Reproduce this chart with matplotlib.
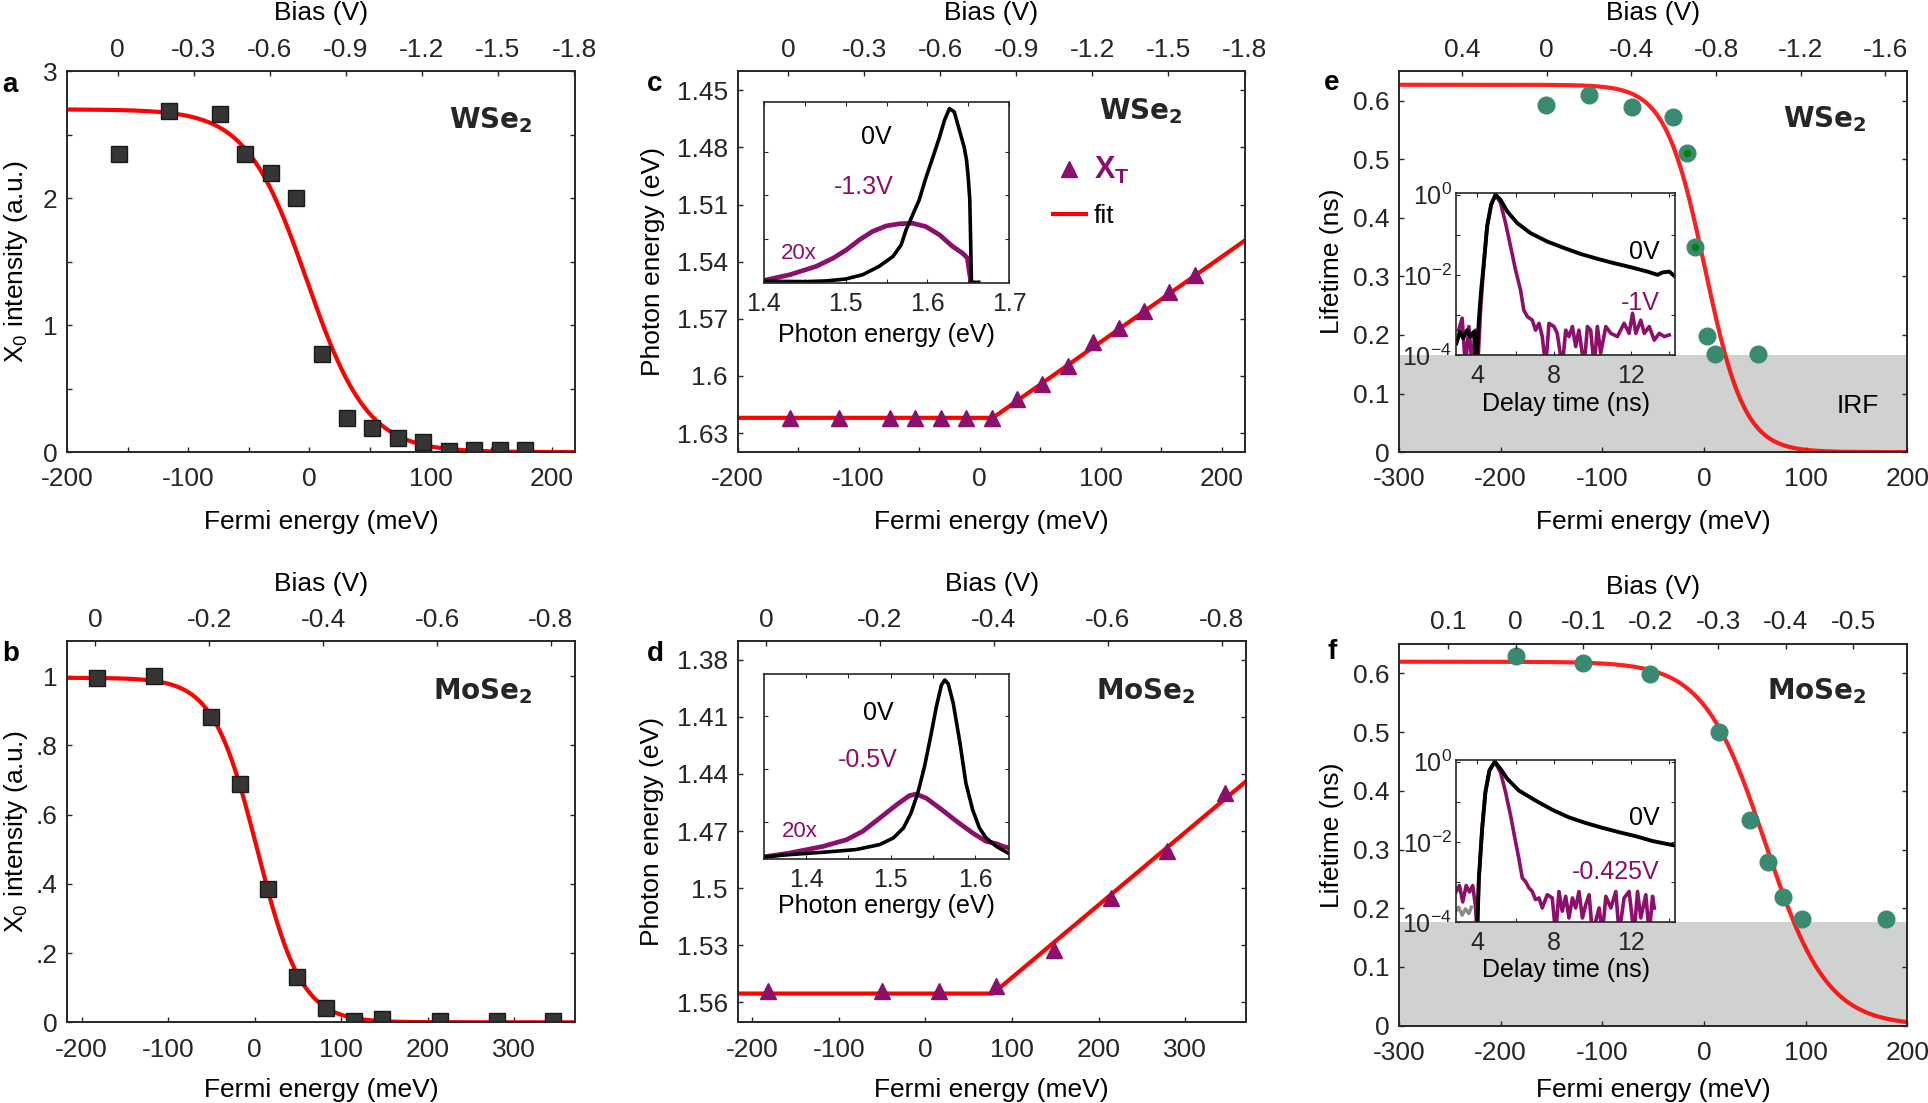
import numpy as np
import matplotlib
matplotlib.use("Agg")
import matplotlib.pyplot as plt

plt.rcParams['font.family'] = ['Liberation Sans', 'DejaVu Sans']
plt.rcParams['mathtext.fontset'] = 'dejavusans'
plt.rcParams['axes.unicode_minus'] = False

W, H = 1928, 1103

RED = '#ff0000'
PURPLE = '#8c0f6b'
GREEN = '#3a8a72'
DKGREEN = '#0b7d14'
SQ_FACE = '#353535'
AX_COL = '#262626'
IRF_COL = '#d0d2d1'

# ---------------- data ----------------
# a: WSe2 X0 intensity
a_ef = [-157, -116, -74, -53, -32, -11, 10, 31, 52, 73, 94, 115, 136, 157, 178]
a_int = [2.35, 2.69, 2.66, 2.35, 2.2, 2.0, 0.77, 0.27, 0.19, 0.11, 0.08, 0.01, 0.02, 0.02, 0.02]
a_fit = (2.7, -2, 25)          # amplitude, centre (meV), width (meV)

# b: MoSe2 X0 intensity
b_ef = [-182, -116, -51, -17, 15, 49, 82, 115, 147, 214, 280, 345]
b_int = [0.995, 1.0, 0.882, 0.687, 0.385, 0.13, 0.04, 0.005, 0.01, 0.005, 0.005, 0.005]
b_fit = (0.995, 3, 25.5)

# c: WSe2 trion energy
c_ef = [-157, -116, -74, -53, -32, -11, 10, 31, 52, 73, 94, 115, 136, 157, 178]
c_xt = [1.622, 1.622, 1.622, 1.622, 1.622, 1.622, 1.622, 1.612, 1.604, 1.595,
        1.582, 1.575, 1.566, 1.556, 1.547]
c_fit_ef = [-200, 11, 219]
c_fit_en = [1.622, 1.622, 1.529]

# d: MoSe2 trion energy
d_ef = [-182, -50, 16, 82, 148, 214, 279, 346]
d_xt = [1.554, 1.554, 1.554, 1.5516, 1.5322, 1.5049, 1.4804, 1.4498]
d_fit_ef = [-217, 78, 370]
d_fit_en = [1.5553, 1.5553, 1.444]

# e: WSe2 lifetime
e_ef = [-155, -113, -71, -30, -17, -9, 3, 11, 53]
e_tau = [0.592, 0.609, 0.589, 0.572, 0.511, 0.350, 0.199, 0.167, 0.167]
e_mark_ef = [-17, -9]
e_mark_tau = [0.511, 0.350]
e_fit = (0.627, 1, 19.5)
e_irf = 0.166

# f: MoSe2 lifetime
f_ef = [-185, -119, -53, 15, 45, 63, 78, 96, 179]
f_tau = [0.630, 0.618, 0.599, 0.500, 0.350, 0.279, 0.220, 0.182, 0.182]
f_fit = (0.62, 60.5, 30.3)
f_irf = 0.177

# inset c: PL spectra WSe2 (normalised)
ic_e0 = [1.400, 1.452, 1.476, 1.500, 1.521, 1.541, 1.558, 1.568, 1.574, 1.590, 1.598, 1.607,
         1.615, 1.621, 1.627, 1.633, 1.637, 1.641, 1.645, 1.648, 1.650, 1.652, 1.653, 1.654, 1.663]
ic_i0 = [0.006, 0.004, 0.008, 0.019, 0.044, 0.092, 0.149, 0.216, 0.302, 0.474, 0.598, 0.723,
         0.837, 0.933, 1.0, 0.981, 0.914, 0.847, 0.780, 0.704, 0.608, 0.474, 0.245, 0.0, 0.0]
ic_e1 = [1.400, 1.432, 1.464, 1.485, 1.501, 1.517, 1.533, 1.550, 1.566, 1.582, 1.598, 1.615,
         1.631, 1.643, 1.649, 1.651, 1.654]
ic_i1 = [0.011, 0.044, 0.092, 0.140, 0.187, 0.245, 0.293, 0.325, 0.337, 0.340, 0.321, 0.273,
         0.206, 0.168, 0.140, 0.073, -0.013]

# inset d: PL spectra MoSe2 (normalised)
id_e0 = [1.350, 1.381, 1.420, 1.459, 1.487, 1.503, 1.515, 1.524, 1.532, 1.540, 1.548, 1.554,
         1.560, 1.564, 1.568, 1.574, 1.582, 1.589, 1.597, 1.605, 1.613, 1.625, 1.640]
id_i0 = [0.006, 0.019, 0.032, 0.047, 0.075, 0.112, 0.168, 0.252, 0.364, 0.514, 0.70, 0.85,
         0.972, 1.0, 0.98, 0.87, 0.645, 0.42, 0.27, 0.168, 0.112, 0.065, 0.024]
id_e1 = [1.350, 1.381, 1.420, 1.448, 1.467, 1.487, 1.507, 1.522, 1.530, 1.542, 1.558, 1.578,
         1.597, 1.613, 1.625, 1.633, 1.640]
id_i1 = [0.006, 0.028, 0.065, 0.103, 0.15, 0.224, 0.299, 0.35, 0.359, 0.336, 0.28, 0.206,
         0.14, 0.093, 0.08, 0.065, 0.056]

# inset e: decay traces WSe2 (log10 of counts)
ie_t0 = [2.92, 3.10, 3.27, 3.48, 3.65, 3.83, 3.97, 4.09, 4.21, 4.35, 4.52, 4.73, 4.96, 5.22,
         5.57, 6.09, 6.78, 7.65, 8.52, 9.39, 10.26, 11.13, 12.0, 12.87, 13.39, 13.65, 14.0, 14.35]
ie_l0 = [-3.71, -3.42, -3.58, -3.38, -3.54, -3.42, -4.3, -3.13, -2.38, -1.71, -0.79, -0.25, 0.0,
         -0.13, -0.42, -0.71, -0.96, -1.17, -1.33, -1.48, -1.6, -1.71, -1.81, -1.92, -2.0,
         -1.94, -1.92, -2.06]
ie_t1 = [3.04, 3.22, 3.39, 3.57, 3.74, 3.91, 4.03, 4.17, 4.35, 4.52, 4.73, 4.96, 5.22, 5.48,
         5.74, 6.0, 6.26, 6.43, 6.61, 6.87, 7.04, 7.22, 7.39, 7.57, 7.74, 8.0, 8.17, 8.43, 8.61,
         8.78, 8.96, 9.13, 9.30, 9.57, 9.74, 9.91, 10.09, 10.26, 10.43, 10.70, 10.96, 11.30,
         11.65, 11.91, 12.09, 12.26, 12.52, 12.70, 12.96, 13.22, 13.48, 13.74, 14.0]
ie_l1 = [-3.38, -3.08, -4.3, -3.29, -4.3, -3.38, -4.3, -2.96, -1.71, -0.79, -0.25, 0.0, -0.21,
         -0.71, -1.29, -1.88, -2.38, -2.88, -3.04, -3.13, -3.38, -3.21, -3.54, -4.3, -3.21,
         -3.29, -3.46, -4.3, -3.38, -3.54, -3.29, -3.79, -3.38, -4.3, -3.29, -3.38, -4.3,
         -3.29, -3.96, -3.29, -3.46, -3.54, -3.21, -3.46, -2.96, -3.46, -3.13, -3.46, -3.29,
         -3.63, -3.46, -3.54, -3.5]

# inset f: decay traces MoSe2 (log10 of counts)
if_t0 = [4.0, 4.09, 4.26, 4.43, 4.64, 4.92, 5.22, 5.57, 6.17, 7.04, 7.91, 8.78, 9.65, 10.52,
         11.39, 12.26, 13.13, 14.26]
if_l0 = [-4.3, -2.92, -1.68, -0.76, -0.22, 0.0, -0.18, -0.43, -0.72, -0.97, -1.2, -1.39,
         -1.53, -1.65, -1.76, -1.86, -1.98, -2.09]
if_tg = [2.87, 3.04, 3.22, 3.39, 3.57, 3.70]
if_lg = [-3.75, -3.63, -3.83, -3.67, -3.79, -3.63]
if_t1 = [2.90, 3.08, 3.25, 3.43, 3.60, 3.77, 3.91, 4.0, 4.09, 4.26, 4.43, 4.64, 4.92, 5.22,
         5.48, 5.74, 6.0, 6.17, 6.35, 6.52, 6.70, 6.87, 7.04, 7.22, 7.39, 7.65, 7.91, 8.09,
         8.26, 8.43, 8.61, 8.78, 8.96, 9.13, 9.30, 9.48, 9.65, 9.83, 10.0, 10.35, 10.52, 10.70,
         10.96, 11.22, 11.39, 11.65, 11.91, 12.17, 12.35, 12.52, 12.78, 12.96, 13.13, 13.22]
if_l1 = [-3.25, -3.09, -3.5, -3.09, -3.25, -3.09, -3.59, -4.3, -2.92, -1.68, -0.76, -0.22, 0.0,
         -0.27, -0.76, -1.34, -2.0, -2.41, -2.9, -2.99, -3.15, -3.24, -3.44, -3.4, -3.65, -3.32,
         -3.4, -4.3, -3.24, -3.73, -3.36, -3.9, -3.4, -3.65, -3.24, -3.9, -3.57, -3.32, -4.3,
         -3.65, -4.3, -3.36, -3.65, -3.24, -4.3, -3.4, -3.24, -4.3, -3.24, -3.9, -3.32, -4.3,
         -3.36, -3.65]

# ---------------- ticks ----------------
ac_xticks = [-200, -150, -100, -50, 0, 50, 100, 150, 200]
ac_xlabels = ['-200', '', '-100', '', '0', '', '100', '', '200']
bd_xticks = [-200, -100, 0, 100, 200, 300]
bd_xlabels = ['-200', '-100', '0', '100', '200', '300']
ef_xticks = [-300, -200, -100, 0, 100, 200]
ef_xlabels = ['-300', '-200', '-100', '0', '100', '200']

a_yticks = [0, 0.5, 1, 1.5, 2, 2.5, 3]
a_ylabels = ['0', '', '1', '', '2', '', '3']
b_yticks = [0, 0.2, 0.4, 0.6, 0.8, 1.0]
b_ylabels = ['0', '.2', '.4', '.6', '.8', '1']
c_yticks = [1.45, 1.48, 1.51, 1.54, 1.57, 1.60, 1.63]
c_ylabels = ['1.45', '1.48', '1.51', '1.54', '1.57', '1.6', '1.63']
d_yticks = [1.38, 1.41, 1.44, 1.47, 1.50, 1.53, 1.56]
d_ylabels = ['1.38', '1.41', '1.44', '1.47', '1.5', '1.53', '1.56']
ef_yticks = [0, 0.1, 0.2, 0.3, 0.4, 0.5, 0.6]
ef_ylabels = ['0', '0.1', '0.2', '0.3', '0.4', '0.5', '0.6']

ac_bias = [0, -0.3, -0.6, -0.9, -1.2, -1.5, -1.8]
ac_bias_labels = ['0', '-0.3', '-0.6', '-0.9', '-1.2', '-1.5', '-1.8']
bd_bias = [0, -0.2, -0.4, -0.6, -0.8]
bd_bias_labels = ['0', '-0.2', '-0.4', '-0.6', '-0.8']
e_bias = [0.4, 0, -0.4, -0.8, -1.2, -1.6]
e_bias_labels = ['0.4', '0', '-0.4', '-0.8', '-1.2', '-1.6']
f_bias = [0.1, 0, -0.1, -0.2, -0.3, -0.4, -0.5]
f_bias_labels = ['0.1', '0', '-0.1', '-0.2', '-0.3', '-0.4', '-0.5']

spec_c_ticks = [1.4, 1.45, 1.5, 1.55, 1.6, 1.65, 1.7]
spec_c_labels = ['1.4', '', '1.5', '', '1.6', '', '1.7']
spec_d_ticks = [1.4, 1.45, 1.5, 1.55, 1.6]
spec_d_labels = ['1.4', '', '1.5', '', '1.6']
decay_ticks = [4, 6, 8, 10, 12, 14]
decay_labels = ['4', '', '8', '', '12', '']
decay_yticks = [1e-4, 1e-3, 1e-2, 1e-1, 1]
decay_ylabels = [r'$\mathregular{10^{-4}}$', '', r'$\mathregular{10^{-2}}$', '',
                 r'$\mathregular{10^{0}}$']


def fermi(x, amp, x0, w):
    return amp / (1 + np.exp((x - x0) / w))


fig = plt.figure(figsize=(W / 100, H / 100), dpi=100)


def box_axes(box):
    l, t, r, b = box
    return fig.add_axes([l / W, 1 - b / H, (r - l) / W, (b - t) / H])


def style_spines(a_):
    for s in a_.spines.values():
        s.set_color(AX_COL)
        s.set_linewidth(1.2)


def main_axes(box, xlim, ylim, xt, xtl, yt, ytl, blim, bt, btl, ylabel, ylx, biasy):
    ax = box_axes(box)
    ax.set_xlim(xlim)
    ax.set_ylim(ylim)
    ax.set_xticks(xt)
    ax.set_xticklabels(xtl)
    ax.set_yticks(yt)
    ax.set_yticklabels(ytl)
    ax.tick_params(which='both', direction='in', top=False, right=True, length=3.5,
                   width=1, pad=7, labelsize=19, colors=AX_COL)
    ax.tick_params(axis='x', pad=11)
    ax.set_xlabel('Fermi energy (meV)', fontsize=19)
    ax.xaxis.set_label_coords(0.5, -0.152)
    ax.set_ylabel(ylabel, fontsize=19)
    ax.yaxis.set_label_coords(ylx, 0.5)
    tw = ax.twiny()
    tw.set_xlim(blim)
    tw.set_xticks(bt)
    tw.set_xticklabels(btl)
    tw.tick_params(direction='in', length=3.5, width=1, pad=7, labelsize=19, colors=AX_COL)
    tw.set_xlabel('Bias (V)', fontsize=19)
    tw.xaxis.set_label_coords(0.5, biasy)
    style_spines(ax)
    style_spines(tw)
    return ax


def inset_axes(box, xlim, ylim, xt, xtl):
    ins = box_axes(box)
    ins.set_facecolor('white')
    ins.set_zorder(10)
    ins.set_xlim(xlim)
    ins.set_ylim(ylim)
    ins.set_xticks(xt)
    ins.set_xticklabels(xtl)
    ins.tick_params(which='both', direction='in', top=True, right=True, length=3,
                    width=0.8, pad=3, labelsize=18, colors=AX_COL)
    ins.tick_params(axis='x', pad=6.5)
    style_spines(ins)
    return ins


def material(ax, x, y, name):
    ax.text(x, y, name, transform=ax.transAxes, ha='right', va='baseline', fontsize=20,
            fontweight='bold', family='DejaVu Sans', color=AX_COL)


top_ylab = 1.135
bot_ylab = 1.132
x0_label = r'X$_\mathregular{0}$ intensity (a.u.)'

# ---------------- a ----------------
ax = main_axes((67, 71.3, 574.8, 452.1), (-200, 219), (0, 3), ac_xticks, ac_xlabels,
               a_yticks, a_ylabels, (0.2, -1.803), ac_bias, ac_bias_labels,
               x0_label, -0.072, top_ylab)
xs = np.linspace(-200, 219, 400)
ax.plot(xs, fermi(xs, *a_fit), color=RED, lw=3, zorder=2)
ax.plot(a_ef, a_int, 's', ms=11, mfc=SQ_FACE, mec='#1a1a1a', mew=1, zorder=3)
material(ax, 0.916, 0.851, r'WSe$_\mathbf{2}$')

# ---------------- b ----------------
ax = main_axes((67, 641.4, 574.8, 1022.3), (-217, 370), (0, 1.1), bd_xticks, bd_xlabels,
               b_yticks, b_ylabels, (0.05, -0.842), bd_bias, bd_bias_labels,
               x0_label, -0.072, bot_ylab)
ax.xaxis.set_label_coords(0.5, -0.147)
xs = np.linspace(-217, 370, 400)
ax.plot(xs, fermi(xs, *b_fit), color=RED, lw=3, zorder=2)
ax.plot(b_ef, b_int, 's', ms=11, mfc=SQ_FACE, mec='#1a1a1a', mew=1, zorder=3)
material(ax, 0.916, 0.848, r'MoSe$_\mathbf{2}$')

# ---------------- c ----------------
ax = main_axes((737.6, 71.3, 1244.5, 452.1), (-200, 219), (1.640, 1.440), ac_xticks,
               ac_xlabels, c_yticks, c_ylabels, (0.2, -1.8), ac_bias, ac_bias_labels,
               'Photon energy (eV)', -0.144, top_ylab)
hf, = ax.plot(c_fit_ef, c_fit_en, color=RED, lw=3, zorder=2)
hx, = ax.plot(c_ef, c_xt, '^', ms=12, color=PURPLE, zorder=3)
material(ax, 0.8775, 0.875, r'WSe$_\mathbf{2}$')
leg = ax.legend(handles=[hx, hf], labels=[r'X$_\mathregular{T}$', 'fit'], loc='upper left',
                bbox_to_anchor=(0.622, 0.781), frameon=False, fontsize=19, borderpad=0,
                borderaxespad=0, handlelength=1.25, handletextpad=0.3, labelspacing=0.68)
leg.get_texts()[0].set_color(PURPLE)
leg.get_texts()[0].set_fontweight('bold')
leg.get_texts()[0].set_fontsize(22)

ins = inset_axes((764, 102, 1009, 283), (1.4, 1.7), (-0.004, 1.038), spec_c_ticks, spec_c_labels)
ins.set_yticks([0.25, 0.5, 0.75])
ins.set_yticklabels([])
ins.plot(ic_e1, ic_i1, color=PURPLE, lw=3.4)
ins.plot(ic_e0, ic_i0, color='black', lw=2.6)
ins.set_xlabel('Photon energy (eV)', fontsize=18, labelpad=5)
ins.text(0.457, 0.808, '0V', transform=ins.transAxes, fontsize=18, ha='center', va='center')
ins.text(0.408, 0.532, '-1.3V', transform=ins.transAxes, fontsize=18, color=PURPLE,
         ha='center', va='center')
ins.text(0.144, 0.164, '20x', transform=ins.transAxes, fontsize=16, color=PURPLE,
         ha='center', va='center')

# ---------------- d ----------------
ax = main_axes((737.6, 641.4, 1245.7, 1022.3), (-217, 370), (1.5704, 1.3704), bd_xticks,
               bd_xlabels, d_yticks, d_ylabels, (0.05, -0.842), bd_bias, bd_bias_labels,
               'Photon energy (eV)', -0.144, bot_ylab)
ax.xaxis.set_label_coords(0.5, -0.147)
ax.plot(d_fit_ef, d_fit_en, color=RED, lw=3, zorder=2)
ax.plot(d_ef, d_xt, '^', ms=12, color=PURPLE, zorder=3)
material(ax, 0.901, 0.848, r'MoSe$_\mathbf{2}$')

ins = inset_axes((764, 674, 1009, 859), (1.35, 1.64), (-0.006, 1.034), spec_d_ticks, spec_d_labels)
ins.set_yticks([0.2, 0.5, 0.8])
ins.set_yticklabels([])
ins.plot(id_e1, id_i1, color=PURPLE, lw=3.4)
ins.plot(id_e0, id_i0, color='black', lw=2.6)
ins.set_xlabel('Photon energy (eV)', fontsize=18, labelpad=1.5)
ins.text(0.467, 0.788, '0V', transform=ins.transAxes, fontsize=18, ha='center', va='center')
ins.text(0.422, 0.535, '-0.5V', transform=ins.transAxes, fontsize=18, color=PURPLE,
         ha='center', va='center')
ins.text(0.147, 0.148, '20x', transform=ins.transAxes, fontsize=16, color=PURPLE,
         ha='center', va='center')

# ---------------- e ----------------
ax = main_axes((1399, 71.3, 1907.3, 452.1), (-300, 200), (0, 0.65), ef_xticks, ef_xlabels,
               ef_yticks, ef_ylabels, (0.697, -1.703), e_bias, e_bias_labels,
               'Lifetime (ns)', -0.109, top_ylab)
xs = np.linspace(-300, 200, 400)
ax.axhspan(0, e_irf, color=IRF_COL, lw=0, zorder=1)
ax.plot(xs, fermi(xs, *e_fit), color=RED, lw=3, alpha=0.88, zorder=2)
ax.plot(e_ef, e_tau, 'o', ms=12, color=GREEN, zorder=2.1)
ax.plot(e_mark_ef, e_mark_tau, 'o', ms=4.5, color=DKGREEN, zorder=2.2)
ax.text(0.944, 0.121, 'IRF', transform=ax.transAxes, fontsize=19, ha='right', va='center')
material(ax, 0.920, 0.853, r'WSe$_\mathbf{2}$')

ins = inset_axes((1456, 193, 1675, 355), (2.9, 14.3), (1e-4, 1.1), decay_ticks, decay_labels)
ins.set_yscale('log')
ins.set_ylim(1e-4, 1.1)
ins.set_yticks(decay_yticks)
ins.set_yticklabels(decay_ylabels)
ins.yaxis.set_minor_locator(matplotlib.ticker.NullLocator())
ins.plot(ie_t1, np.power(10.0, ie_l1), color=PURPLE, lw=2.6)
ins.plot(ie_t0, np.power(10.0, ie_l0), color='black', lw=2.8)
ins.set_xlabel('Delay time (ns)', fontsize=18, labelpad=3)
ins.text(0.93, 0.638, '0V', transform=ins.transAxes, fontsize=18, ha='right', va='center')
ins.text(0.93, 0.319, '-1V', transform=ins.transAxes, fontsize=18, color=PURPLE,
         ha='right', va='center')

# ---------------- f ----------------
ax = main_axes((1399, 644.1, 1907.3, 1025.7), (-300, 200), (0, 0.65), ef_xticks, ef_xlabels,
               ef_yticks, ef_ylabels, (0.1725, -0.58), f_bias, f_bias_labels,
               'Lifetime (ns)', -0.109, bot_ylab)
ax.xaxis.set_label_coords(0.5, -0.138)
ax.axhspan(0, f_irf, color=IRF_COL, lw=0, zorder=1)
ax.plot(xs, fermi(xs, *f_fit), color=RED, lw=3, alpha=0.88, zorder=2)
ax.plot(f_ef, f_tau, 'o', ms=12, color=GREEN, zorder=2.1)
material(ax, 0.920, 0.856, r'MoSe$_\mathbf{2}$')

ins = inset_axes((1456, 760, 1675, 922), (2.9, 14.3), (1e-4, 1.1), decay_ticks, decay_labels)
ins.set_yscale('log')
ins.set_ylim(1e-4, 1.1)
ins.set_yticks(decay_yticks)
ins.set_yticklabels(decay_ylabels)
ins.yaxis.set_minor_locator(matplotlib.ticker.NullLocator())
ins.plot(if_tg, np.power(10.0, if_lg), color='#8a8a8a', lw=2.4)
ins.plot(if_t1, np.power(10.0, if_l1), color=PURPLE, lw=2.6)
ins.plot(if_t0, np.power(10.0, if_l0), color='black', lw=2.8)
ins.set_xlabel('Delay time (ns)', fontsize=18, labelpad=2)
ins.text(0.93, 0.639, '0V', transform=ins.transAxes, fontsize=18, ha='right', va='center')
ins.text(0.93, 0.309, '-0.425V', transform=ins.transAxes, fontsize=18, color=PURPLE,
         ha='right', va='center')

# panel letters
for letter, x, y in [('a', 10, 85), ('c', 655, 84), ('e', 1332, 83),
                     ('b', 11, 654), ('d', 655, 654), ('f', 1332, 652)]:
    fig.text(x / W, 1 - y / H, letter, fontsize=20, fontweight='bold', ha='center', va='center')

fig.savefig('out.png', dpi=100)
